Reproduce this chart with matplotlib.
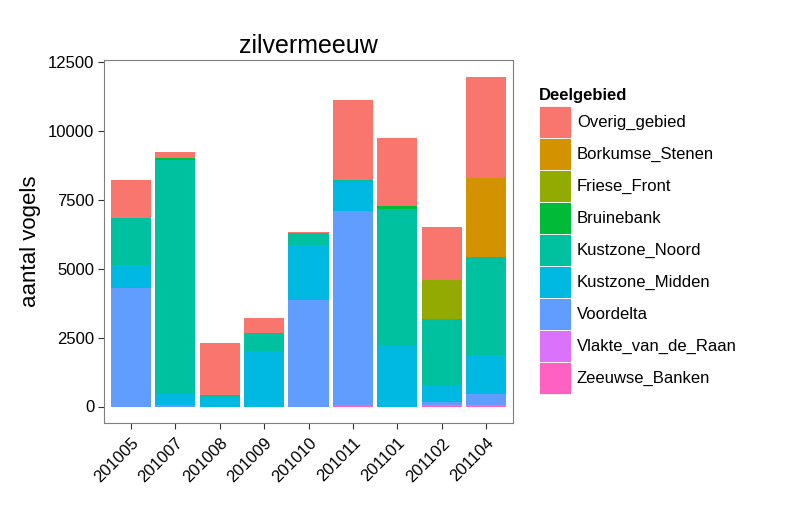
import matplotlib
matplotlib.use("Agg")
import matplotlib.pyplot as plt
import numpy as np

plt.rcParams["font.family"] = ["Liberation Sans", "DejaVu Sans"]

# Data
months = ["201005", "201007", "201008", "201009", "201010", "201011", "201101", "201102", "201104"]
# stacking order from bottom to top
zeeuwse_banken = [0, 0, 0, 0, 0, 60, 0, 20, 20]
vlakte_van_de_raan = [0, 0, 0, 0, 0, 0, 0, 30, 30]
voordelta = [4300, 60, 0, 0, 3870, 7030, 0, 120, 420]
kustzone_midden = [840, 400, 340, 2020, 1990, 1070, 2200, 560, 1410]
kustzone_noord = [1690, 8490, 80, 640, 420, 60, 4950, 2435, 3550]
bruinebank = [0, 72, 0, 0, 0, 0, 130, 0, 0]
friese_front = [0, 0, 0, 0, 0, 0, 0, 1420, 0]
borkumse_stenen = [0, 0, 0, 0, 0, 0, 0, 0, 2870]
overig_gebied = [1400, 200, 1890, 565, 40, 2890, 2463, 1929, 3670]

series = [
    ("Zeeuwse_Banken", zeeuwse_banken, "#FF61C3"),
    ("Vlakte_van_de_Raan", vlakte_van_de_raan, "#DB72FB"),
    ("Voordelta", voordelta, "#619CFF"),
    ("Kustzone_Midden", kustzone_midden, "#00B9E3"),
    ("Kustzone_Noord", kustzone_noord, "#00C19F"),
    ("Bruinebank", bruinebank, "#00BA38"),
    ("Friese_Front", friese_front, "#93AA00"),
    ("Borkumse_Stenen", borkumse_stenen, "#D39200"),
    ("Overig_gebied", overig_gebied, "#F8766D"),
]

fig = plt.figure(figsize=(7.97, 5.31), dpi=100)
ax = fig.add_axes([104 / 797, 108 / 531, 409 / 797, 363 / 531])

x = np.arange(1, len(months) + 1)
bottom = np.zeros(len(months))
handles = []
for name, vals, col in series:
    b = ax.bar(x, vals, width=0.9, bottom=bottom, color=col, label=name, linewidth=0)
    bottom += np.array(vals)
    handles.append(b)

total_max = bottom.max()
ax.set_xlim(0.4, len(months) + 0.6)
ax.set_ylim(-0.05 * total_max, total_max * 1.05)
ax.set_xticks(x)
ax.set_xticklabels(months, rotation=45, ha="right", rotation_mode="anchor", fontsize=12)
ax.set_yticks([0, 2500, 5000, 7500, 10000, 12500])
ax.tick_params(axis="y", labelsize=12, length=4, color="#333333", pad=3)
ax.tick_params(axis="x", length=4, color="#333333", pad=5)
for sp in ax.spines.values():
    sp.set_color("#7f7f7f")
    sp.set_linewidth(0.8)

ax.set_title("zilvermeeuw", fontsize=18, pad=5)
ax.set_ylabel("aantal vogels", fontsize=16, labelpad=5)

# Legend: top level first, as in ggplot
leg = fig.legend(
    handles[::-1], [s[0] for s in series][::-1],
    loc="upper left", bbox_to_anchor=(539 / 797, (531 - 88) / 531),
    frameon=False, fontsize=12, title="Deelgebied",
    title_fontproperties={"weight": "bold", "size": 12},
    handlelength=1.92, handleheight=2.58, labelspacing=0.0,
    handletextpad=0.35, borderpad=0, borderaxespad=0, alignment="left",
)
leg._legend_box.sep = 2
for p in leg.get_patches():
    p.set_edgecolor("white")
    p.set_linewidth(0.6)

fig.savefig("out.png", dpi=100)
